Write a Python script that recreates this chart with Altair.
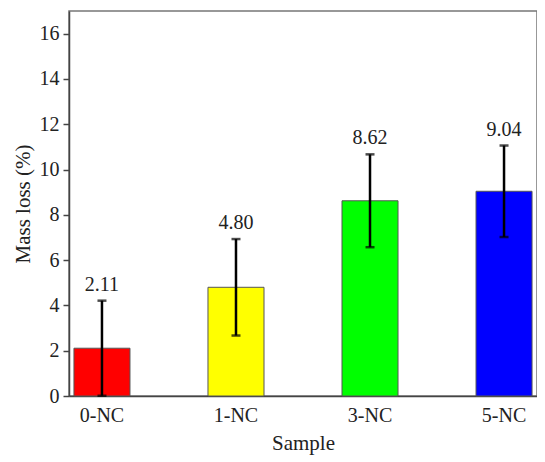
import altair as alt
import pandas as pd

samples = ["0-NC", "1-NC", "3-NC", "5-NC"]
mass_loss = [2.11, 4.80, 8.62, 9.04]
errors = [2.10, 2.13, 2.05, 2.02]
labels = ["2.11", "4.80", "8.62", "9.04"]
colors = ["#FF0000", "#FFFF00", "#00FF00", "#0000FF"]

df = pd.DataFrame({"Sample": samples, "Loss": mass_loss, "Err": errors, "Label": labels})
df["Lo"] = df["Loss"] - df["Err"]
df["Hi"] = df["Loss"] + df["Err"]

FONT = "Liberation Serif"

xs = alt.Scale(paddingInner=0.582, paddingOuter=0.037)
x = alt.X("Sample:N", sort=samples, title="Sample", scale=xs,
          axis=alt.Axis(labelAngle=0, ticks=False, labelPadding=9, titlePadding=7))
yscale = alt.Scale(domain=[0, 17], nice=False)
y = alt.Y("Loss:Q", scale=yscale, title="Mass loss (%)",
          axis=alt.Axis(values=list(range(0, 17)),
                        labelExpr="datum.value % 2 === 0 ? datum.label : ''",
                        tickSize={"condition": {"test": "datum.value % 2 === 0", "value": 6}, "value": 3},
                        grid=False, labelPadding=4, titlePadding=6))

xn = alt.X("Sample:N", sort=samples, scale=xs, title="Sample")
base = alt.Chart(df)
bars = base.mark_bar(stroke="#555", strokeWidth=1).encode(
    x=x, y=y,
    color=alt.Color("Sample:N", scale=alt.Scale(domain=samples, range=colors), legend=None),
)
rule = base.mark_rule(color="black", strokeWidth=2.5).encode(
    x=xn, y=alt.Y("Lo:Q", scale=yscale, title="Mass loss (%)"), y2="Hi:Q")
cap_hi = base.mark_tick(color="black", thickness=2.5, size=9).encode(
    x=xn, y=alt.Y("Hi:Q", scale=yscale, title="Mass loss (%)"))
cap_lo = base.mark_tick(color="black", thickness=2.5, size=9).encode(
    x=xn, y=alt.Y("Lo:Q", scale=yscale, title="Mass loss (%)"))
text = base.mark_text(font=FONT, fontSize=20, baseline="bottom", dy=-6, color="#222").encode(
    x=xn, y=alt.Y("Hi:Q", scale=yscale, title="Mass loss (%)"), text="Label:N")

chart = alt.layer(bars, rule, cap_hi, cap_lo, text).properties(
    width=468, height=385,
    autosize=alt.AutoSizeParams(type="none"),
    padding={"left": 61, "top": 3, "right": 0, "bottom": 62},
).configure_view(stroke="#777", strokeWidth=1.5).configure_axis(
    labelFont=FONT, titleFont=FONT, labelFontSize=20, titleFontSize=21,
    titleFontWeight="normal", labelColor="#222", titleColor="#222",
    domainColor="#444", domainWidth=1.5, tickColor="#444", tickWidth=1.5,
)

chart.save("out.html", embed_options={"renderer": "svg", "actions": False})
